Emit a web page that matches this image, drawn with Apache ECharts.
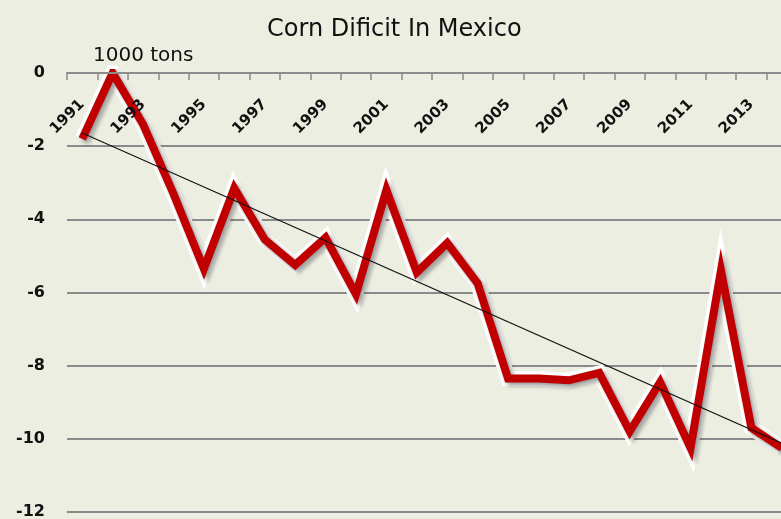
<!DOCTYPE html>
<html>
<head>
<meta charset="utf-8">
<script src="https://cdn.jsdelivr.net/npm/echarts@6/dist/echarts.min.js"></script>
<style>
  html, body { margin: 0; padding: 0; background: #ebeee0; }
  #chart { width: 781px; height: 519px; }
</style>
</head>
<body>
<div id="chart"></div>
<script>
// years on the category axis
const years = [
  '1991', '1992', '1993', '1994', '1995', '1996', '1997', '1998',
  '1999', '2000', '2001', '2002', '2003', '2004', '2005', '2006',
  '2007', '2008', '2009', '2010', '2011', '2012', '2013', '2014',
];
// corn deficit, 1000 tons
const deficit = [
  -1.8, 0, -1.4, -3.3, -5.35, -3.15, -4.55, -5.25,
  -4.5, -6.05, -3.2, -5.45, -4.65, -5.75, -8.35, -8.35,
  -8.4, -8.2, -9.8, -8.45, -10.25, -5.4, -9.7, -10.25,
];
// trend line: only the two end points
const trend = [
  -1.64, null, null, null, null, null, null, null,
  null, null, null, null, null, null, null, null,
  null, null, null, null, null, null, null, -10.12,
];
const yTicks = { min: -12, max: 0, step: 2 };

const chart = echarts.init(document.getElementById('chart'));

const option = {
  animation: false,
  backgroundColor: '#ebeee0',
  title: [
    {
      text: 'Corn Dificit In Mexico',
      left: 262,
      top: 13,
      textStyle: { fontFamily: 'DejaVu Sans', fontSize: 24, fontWeight: 'normal', color: '#111' },
    },
    {
      text: '1000 tons',
      left: 88,
      top: 41,
      textStyle: { fontFamily: 'DejaVu Sans', fontSize: 20, fontWeight: 'normal', color: '#111' },
    },
  ],
  grid: {
    left: 67,
    top: 73,
    width: 730,
    height: 439,
    outerBoundsMode: 'none',
  },
  xAxis: {
    type: 'category',
    data: years,
    position: 'top',
    z: 5,
    boundaryGap: true,
    axisLine: {
      onZero: false,
      lineStyle: { color: '#8c8c8c', width: 2 },
    },
    axisTick: {
      show: true,
      inside: true,
      interval: 0,
      length: 7,
      lineStyle: { color: '#8c8c8c', width: 1.5 },
    },
    axisLabel: {
      inside: true,
      interval: 1,
      rotate: -45,
      margin: 29,
      fontFamily: 'DejaVu Sans',
      fontSize: 15,
      fontWeight: 'bold',
      color: '#111',
    },
    splitLine: { show: false },
  },
  yAxis: {
    type: 'value',
    min: yTicks.min,
    max: yTicks.max,
    interval: yTicks.step,
    axisLine: { show: false },
    axisTick: { show: false },
    axisLabel: {
      margin: 22,
      fontFamily: 'DejaVu Sans',
      fontSize: 16,
      fontWeight: 'bold',
      color: '#111',
    },
    splitLine: {
      show: true,
      lineStyle: { color: '#8a8a8a', width: 2 },
    },
  },
  series: [
    {
      // white halo under the main line
      type: 'line',
      data: deficit,
      symbol: 'none',
      silent: true,
      z: 1,
      lineStyle: {
        color: '#ffffff',
        width: 15,
        join: 'miter',
        miterLimit: 10,
      },
    },
    {
      type: 'line',
      data: deficit,
      symbol: 'none',
      silent: true,
      z: 2,
      lineStyle: {
        color: '#c00000',
        width: 8,
        join: 'miter',
        miterLimit: 10,
        shadowColor: 'rgba(0,0,0,0.4)',
        shadowBlur: 4,
        shadowOffsetX: 3,
        shadowOffsetY: 3,
      },
    },
    {
      type: 'line',
      data: trend,
      connectNulls: true,
      symbol: 'none',
      silent: true,
      z: 3,
      lineStyle: { color: '#111', width: 1.1 },
    },
  ],
};

chart.setOption(option);
</script>
</body>
</html>
